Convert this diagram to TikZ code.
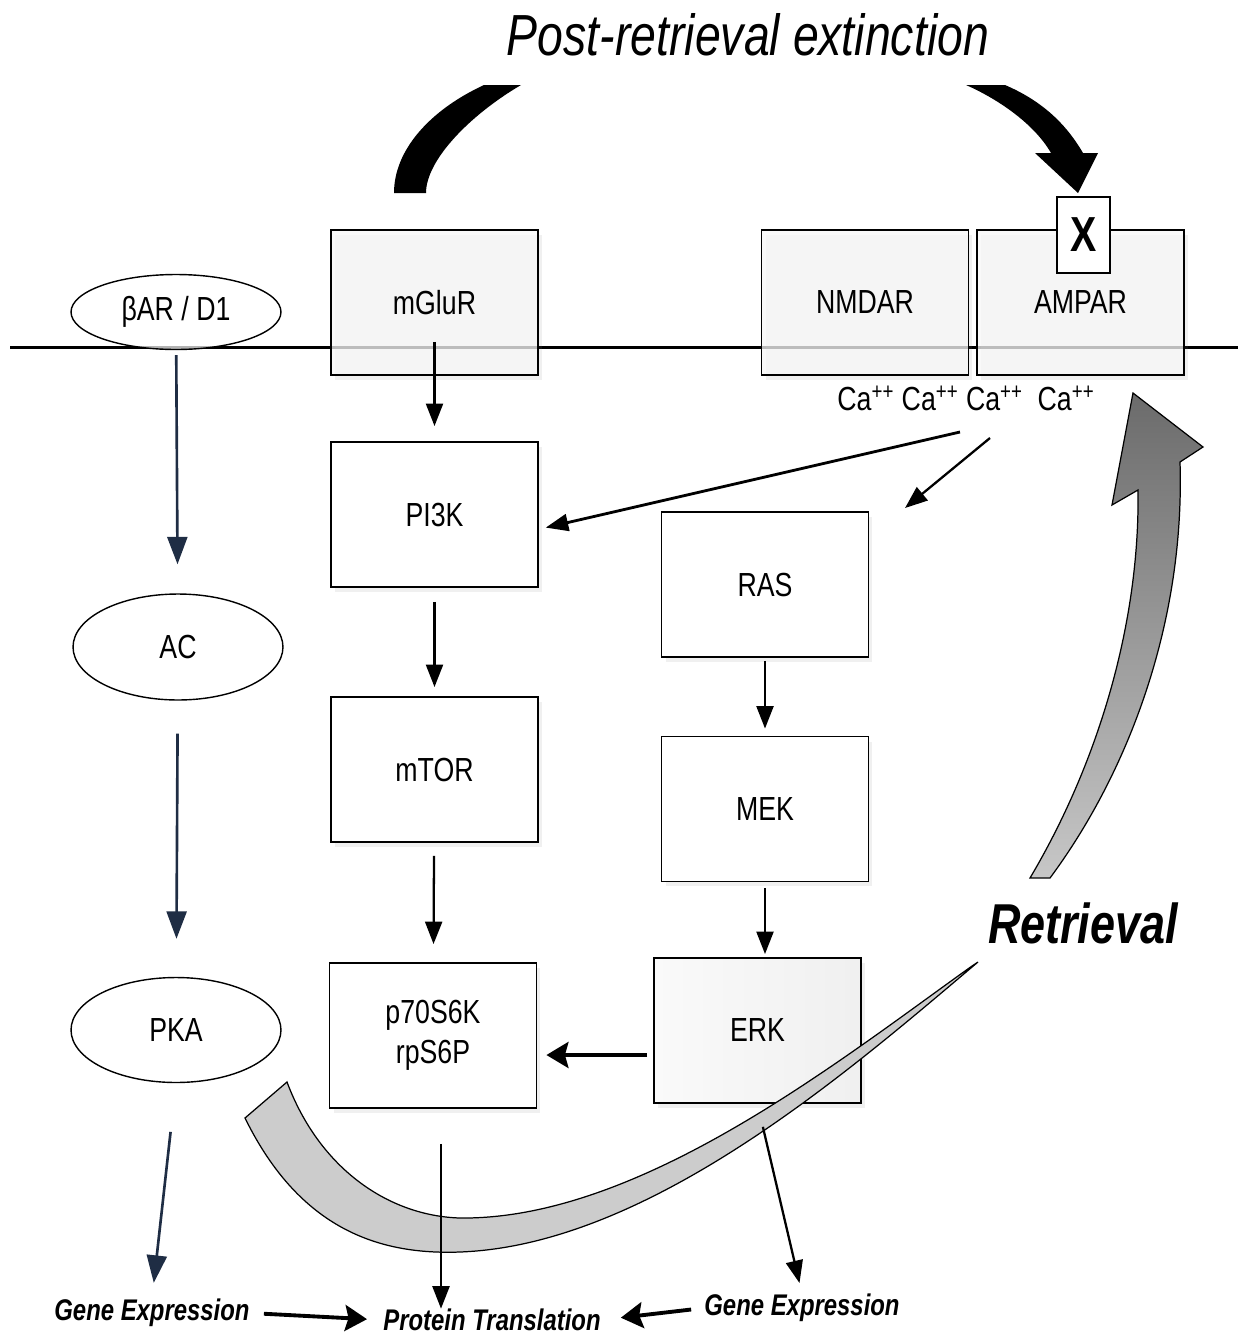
\documentclass[tikz,border=0pt]{standalone}
\usepackage{fontspec}
\setmainfont{Liberation Sans}[FakeStretch=0.8]
\usetikzlibrary{arrows.meta,calc,shadows,shapes.geometric}
\definecolor{navy}{HTML}{1F2D44}

\tikzset{
  box/.style={draw, line width=1.1pt, minimum width=4.14cm, minimum height=2.9cm,
    fill=white, font=\fontsize{19}{23}\selectfont,
    drop shadow={shadow xshift=0.08cm, shadow yshift=-0.1cm, opacity=.12}},
  membox/.style={box, fill=gray!6, fill opacity=.75, text opacity=1},
  oval/.style={draw, ellipse, line width=0.8pt, minimum width=4.2cm, minimum height=2.1cm,
    fill=white, font=\fontsize{19}{23}\selectfont},
  arr/.style={line width=1.3pt, -{Triangle[length=0.45cm,width=0.34cm]}},
  navyarr/.style={line width=1.5pt, draw=navy, fill=navy, -{Triangle[length=0.55cm,width=0.4cm]}},
  fatarr/.style={line width=2.2pt, -{Stealth[length=0.44cm,width=0.52cm,inset=0.07cm]}},
  lbl/.style={font=\fontsize{17}{20}\selectfont\bfseries\itshape, inner sep=0pt}
}

\begin{document}
\begin{tikzpicture}[x=0.02cm, y=-0.02cm]
  \useasboundingbox (0,0) rectangle (1244,1336);
  % membrane
  \draw[line width=1.7pt] (10,347) -- (1238,347);

  % receptors in the membrane
  \node[oval, fill opacity=.7, text opacity=1, minimum height=1.5cm] (bar) at (176,312) {βAR / D1};
  \node[membox] (mglur) at (434.5,302.5) {mGluR};
  \node[membox] (nmdar) at (865,302.5) {NMDAR};
  \node[membox] (ampar) at (1080.5,302.5) {AMPAR};
  \node[draw, fill=white, line width=1.1pt, minimum width=1.06cm, minimum height=1.52cm,
    font=\fontsize{28}{30}\selectfont\bfseries] (xbox) at (1083.5,235) {X};
  \node[font=\fontsize{19}{21}\selectfont] (ca) at (966,398)
    {Ca\textsuperscript{++} Ca\textsuperscript{++} Ca\textsuperscript{++}\ \ Ca\textsuperscript{++}};

  % cascades
  \node[box] (pi3k) at (434.5,514.5) {PI3K};
  \node[box] (mtor) at (434.5,769.5) {mTOR};
  \node[box, align=center] (p70) at (433,1035.5) {p70S6K\\rpS6P};
  \node[box] (ras) at (765,584.5) {RAS};
  \node[box] (mek) at (765,809) {MEK};
  \node[box, left color=gray!4, right color=gray!12] (erk) at (757.5,1030.5) {ERK};
  \node[oval, minimum height=2.12cm] (ac) at (178,647) {AC};
  \node[oval] (pka) at (176,1030) {PKA};

  % outputs
  \node[lbl] (geneL) at (152,1313) {Gene Expression};
  \node[lbl] (prot) at (492,1320) {Protein Translation};
  \node[lbl] (geneR) at (802,1308) {Gene Expression};

  % titles
  \node[font=\fontsize{33}{36}\selectfont\itshape] (title) at (748,35) {Post-retrieval extinction};
  \node[font=\fontsize{32}{34}\selectfont\bfseries\itshape] (retr) at (1083,923) {Retrieval};

  % extinction arrow
  \fill (394,193) .. controls (394,150) and (430,110) .. (484,85) -- (521,85)
    .. controls (470,115) and (426,160) .. (426,193) -- cycle;
  \fill (966,85) .. controls (1000,100) and (1035,125) .. (1051,153) -- (1035,153)
    -- (1078,193) -- (1098,153) -- (1083,153)
    .. controls (1065,122) and (1040,100) .. (1005,85) -- cycle;

  % retrieval arrow
  \draw[line width=0.7pt, fill=gray!40] (245,1118) .. controls (300,1230) and (380,1255) .. (460,1252)
    .. controls (650,1245) and (850,1070) .. (978,962) -- (972,966)
    .. controls (840,1060) and (640,1220) .. (460,1218)
    .. controls (390,1216) and (320,1170) .. (287,1082) -- cycle;
  \draw[line width=0.7pt, top color=black!58, bottom color=black!22]
    (1030,878) .. controls (1100,760) and (1140,620) .. (1138,490) -- (1112,505)
    -- (1133,393) -- (1203,447) -- (1180,462)
    .. controls (1185,620) and (1130,770) .. (1050,878) -- cycle;

  % connectors
  \draw[navyarr, shorten <=0.1cm, shorten >=0.58cm] (bar) -- (ac);
  \draw[navyarr, shorten <=0.66cm, shorten >=0.76cm] (ac) -- (pka);
  \draw[navyarr, shorten <=0.98cm, shorten >=0.32cm] (pka.south) -- (geneL.north);
  \draw[arr, shorten <=0.79cm, shorten >=0.3cm] (mglur.center) -- (pi3k.north);
  \draw[arr, shorten <=0.28cm, shorten >=0.18cm] (pi3k) -- (mtor);
  \draw[arr, shorten <=0.26cm, shorten >=0.36cm] (mtor) -- (p70);
  \draw[arr, shorten <=0.7cm] ([xshift=0.16cm]p70.south) -- ([xshift=0.16cm]p70.south |- prot.north);
  \draw[arr, shorten <=0.06cm, shorten >=0.14cm] (ras.south) -- (mek.north);
  \draw[arr, shorten <=0.12cm, shorten >=0.06cm] (mek.south) -- (mek.south |- erk.north);
  \draw[fatarr, shorten <=0.12cm, shorten >=0.18cm] ([yshift=-0.49cm]erk.west) -- ([yshift=-0.49cm]erk.west -| p70.east);
  \draw[arr, shorten <=0.47cm, shorten >=0.22cm] (erk.south) -- (geneR.north);
  \draw[fatarr, shorten <=0.28cm, shorten >=0.32cm] (geneL.east) -- (prot.west);
  \draw[fatarr, shorten <=0.26cm, shorten >=0.4cm] (geneR.west) -- (prot.east);
  \coordinate (caL) at (960,432);
  \coordinate (caR) at (990,438);
  \coordinate (rasIn) at (905,508);
  \draw[arr, line width=1.6pt, shorten >=0.14cm] (caL) -- (pi3k.-8.5);
  \draw[arr] (caR) -- (rasIn);
\end{tikzpicture}
\end{document}
